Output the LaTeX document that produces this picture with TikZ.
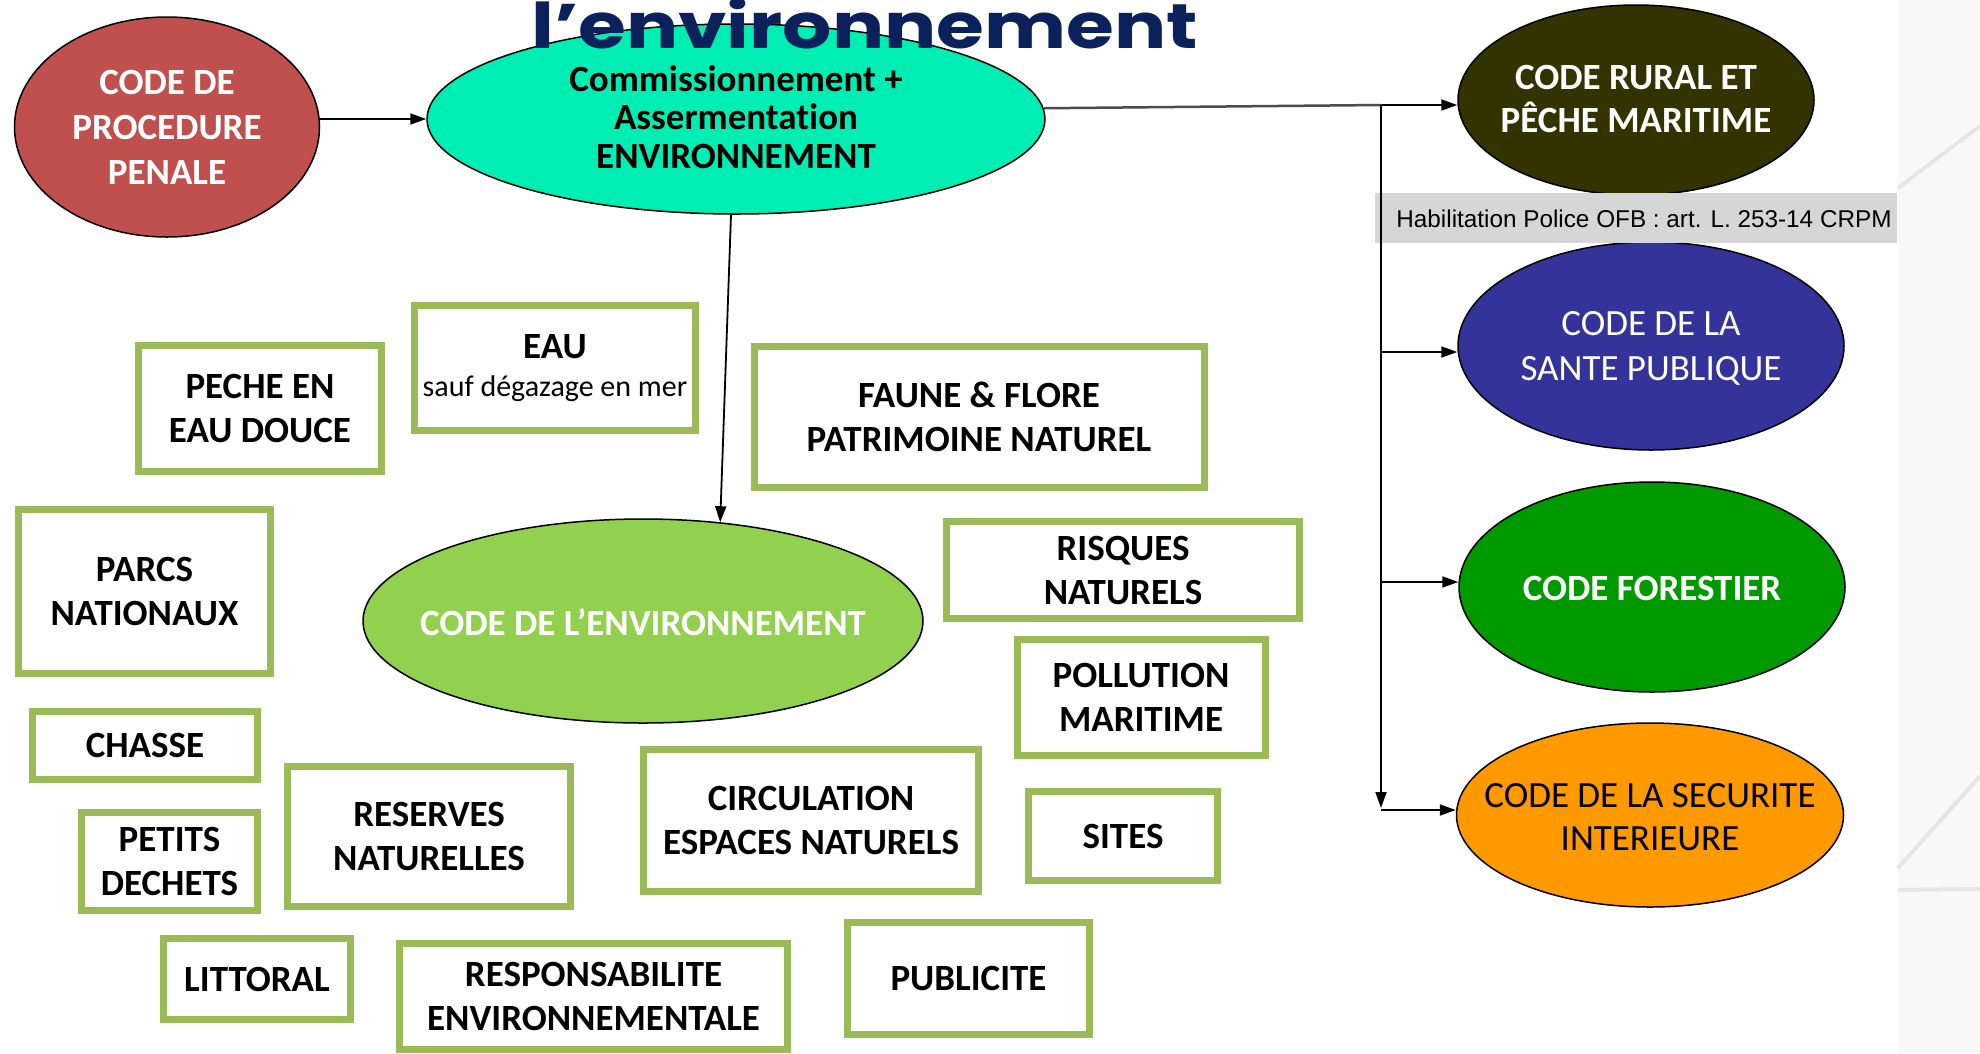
\documentclass[tikz,border=0pt]{standalone}
\usepackage{fontspec}
\setmainfont{Carlito}[Ligatures=NoCommon]
\newfontfamily\titlefont{Poppins}
\newfontfamily\arialfont{Liberation Sans}
\usetikzlibrary{shapes.geometric,arrows.meta}
\definecolor{boxgreen}{HTML}{9BBB59}
\definecolor{redE}{HTML}{C0504D}
\definecolor{cyanE}{HTML}{00EEB3}
\definecolor{brownE}{HTML}{333300}
\definecolor{blueE}{HTML}{333399}
\definecolor{greenE}{HTML}{009900}
\definecolor{orangeE}{HTML}{FF9900}
\definecolor{lgreenE}{HTML}{92D050}
\definecolor{navyT}{HTML}{0B215C}
\definecolor{greyLbl}{HTML}{D6D6D6}
\definecolor{stripBg}{HTML}{F9F9F9}
\definecolor{bgLine}{HTML}{E6E6E6}
\tikzset{
  ell/.style={ellipse, draw=black, line width=1.5pt, inner sep=0pt},
  boxx/.style={rectangle, draw=boxgreen, line width=7pt, fill=white, inner sep=0pt,
    align=center, font=\bfseries\fontsize{37}{44}\selectfont},
  lbl/.style={align=center, inner sep=0pt, font=\bfseries\fontsize{37}{44}\selectfont},
  lblr/.style={align=center, inner sep=0pt, font=\fontsize{37}{44}\selectfont},
  arr/.style={draw=black, line width=1.8pt, -{Triangle[length=16pt,width=11pt]}},
}
\begin{document}
\begin{tikzpicture}[x=1pt,y=-1pt]
\useasboundingbox (0,0) rectangle (1980,1053);
\fill[white] (0,0) rectangle (1980,1053);
% background strip at right
\fill[stripBg] (1898,0) rectangle (1980,1053);
\draw[bgLine, line width=4pt] (1898,188) -- (1980,126);
\draw[bgLine, line width=4pt] (1898,868) -- (1980,776);
\draw[bgLine, line width=4pt] (1898,890) -- (1980,889);

% ellipses
\node[ell, fill=redE, minimum width=305pt, minimum height=220pt] (red) at (167,127) {};
\node[lbl, text=white, font=\bfseries\fontsize{37}{45}\selectfont] (redT) at (red) {CODE DE\\PROCEDURE\\PENALE};

\node[ell, fill=cyanE, minimum width=618pt, minimum height=190pt] (cyan) at (736,119) {};
\node[lbl, text=black, font=\bfseries\fontsize{37}{38.5}\selectfont] (cyanT) at (736,117) {Commissionnement +\\Assermentation\\ENVIRONNEMENT};

\node[ell, fill=brownE, minimum width=356pt, minimum height=190pt] (brown) at (1636,100) {};
\node[lbl, text=white, font=\bfseries\fontsize{37}{43}\selectfont] (brownT) at (1636,99) {CODE RURAL ET\\PÊCHE MARITIME};

\node[ell, fill=blueE, minimum width=386pt, minimum height=208pt] (blue) at (1651,346) {};
\node[lblr, text=white, font=\fontsize{37}{45}\selectfont] (blueT) at (1651,348) {CODE DE LA\\SANTE PUBLIQUE};

\node[ell, fill=greenE, minimum width=386pt, minimum height=210pt] (green) at (1652,587) {};
\node[lbl, text=white] (greenT) at (1652,588) {CODE FORESTIER};

\node[ell, fill=orangeE, minimum width=387pt, minimum height=184pt] (orange) at (1650,815) {};
\node[lblr, text=black, font=\fontsize{37}{43}\selectfont] (orangeT) at (1650,817) {CODE DE LA SECURITE\\INTERIEURE};

\node[ell, fill=lgreenE, minimum width=560pt, minimum height=204pt] (codeenv) at (643,621) {};
\node[lbl, text=white] (codeenvT) at (643,622) {CODE DE L’ENVIRONNEMENT};

% grey label
\node[fill=greyLbl, minimum width=522pt, minimum height=50pt, inner sep=0pt] (hab) at (1636,218) {};
\node[inner sep=0pt, font=\arialfont\fontsize{24.3}{26}\selectfont] (habT) at (1644,219) {Habilitation Police OFB : art. L. 253-14 CRPM};

% green boxes
\node[boxx, minimum width=243pt, minimum height=126pt] (peche) at (260,408) {PECHE EN\\EAU DOUCE};
\node[boxx, minimum width=281pt, minimum height=125pt, font=\bfseries\fontsize{37}{38}\selectfont] (eau) at (555,368) {EAU\\{\mdseries\fontsize{30}{38}\selectfont sauf dégazage en mer}};
\node[boxx, minimum width=450pt, minimum height=141pt] (faune) at (979,417) {FAUNE \& FLORE\\PATRIMOINE NATUREL};
\node[boxx, minimum width=252pt, minimum height=164pt] (parcs) at (144.5,591.5) {PARCS\\NATIONAUX};
\node[boxx, minimum width=353pt, minimum height=97pt] (risques) at (1123,570) {RISQUES\\NATURELS};
\node[boxx, minimum width=248pt, minimum height=116pt] (pollution) at (1141,697.5) {POLLUTION\\MARITIME};
\node[boxx, minimum width=225pt, minimum height=68pt] (chasse) at (145,745.5) {CHASSE};
\node[boxx, minimum width=176pt, minimum height=98pt] (petits) at (169.5,861.5) {PETITS\\DECHETS};
\node[boxx, minimum width=283pt, minimum height=140pt] (reserves) at (429,836.5) {RESERVES\\NATURELLES};
\node[boxx, minimum width=335pt, minimum height=142pt] (circ) at (811,820.5) {CIRCULATION\\ESPACES NATURELS};
\node[boxx, minimum width=189pt, minimum height=89pt] (sites) at (1123,836) {SITES};
\node[boxx, minimum width=187pt, minimum height=81pt] (littoral) at (257,979) {LITTORAL};
\node[boxx, minimum width=388pt, minimum height=106pt] (resp) at (593.5,996.5) {RESPONSABILITE\\ENVIRONNEMENTALE};
\node[boxx, minimum width=242pt, minimum height=112pt] (pub) at (968.5,978.5) {PUBLICITE};

% connectors
\draw[arr] (red.3.8) -- (red.3.8 -| cyan.west);
\draw[arr] (cyan.-93.6) -- (codeenv.52.6);

\coordinate (jtop) at (1381,105);
\coordinate (jblue) at (1381,352);
\coordinate (jgreen) at (1381,582);
\coordinate (jorange) at (1381,810);
\coordinate (jdown) at (1381,808);

\draw[draw=black!70, line width=2.5pt] (cyan.2.6) -- (jtop);
\draw[arr] (jtop) -- (brown.west |- jtop);
\draw[arr] (jtop) -- (jdown);
\draw[arr] (jblue) -- (blue.west |- jblue);
\draw[arr] (jgreen) -- (green.west |- jgreen);
\draw[arr] (jorange) -- (orange.west |- jorange);

% title (cut at the top), drawn over the ellipse
\node[anchor=base west, text=navyT, inner sep=0pt,
  font=\titlefont\bfseries\fontsize{63}{63}\selectfont] (title) at (531,48) {\scalebox{1.23}[1]{l’environnement}};
\end{tikzpicture}
\end{document}
